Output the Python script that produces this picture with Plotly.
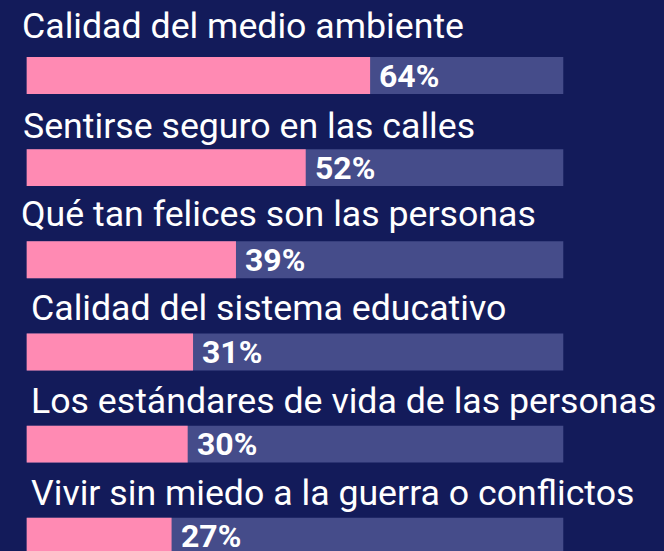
import plotly.graph_objects as go

categories = [
    "Calidad del medio ambiente",
    "Sentirse seguro en las calles",
    "Qué tan felices son las personas",
    "Calidad del sistema educativo",
    "Los estándares de vida de las personas",
    "Vivir sin miedo a la guerra o conflictos",
]
values = [64, 52, 39, 31, 30, 27]
total = [100] * len(values)

# styling (pixel nudges for labels)
label_dx = [-7, -6, -8, 2, 2, 2]
label_gap = [20, 12, 16, 15, 14, 14]

BG = "#131b5a"
TRACK = "#454c8a"
PINK = "#ff8ab3"
FONT = "Roboto"

pos = list(range(len(categories)))

fig = go.Figure()
fig.add_trace(go.Bar(x=total, y=pos, orientation="h", width=0.4,
                     marker=dict(color=TRACK, line=dict(width=0)),
                     hoverinfo="skip", showlegend=False))
fig.add_trace(go.Bar(x=values, y=pos, orientation="h", width=0.4,
                     marker=dict(color=PINK, line=dict(width=0)),
                     showlegend=False))

for i, (c, v) in enumerate(zip(categories, values)):
    fig.add_annotation(x=0, y=i - 0.2, text=c, showarrow=False,
                       xanchor="left", yanchor="bottom",
                       xshift=label_dx[i], yshift=label_gap[i] - 12,
                       font=dict(family=FONT, size=35.7, color="white"))
    fig.add_annotation(x=v, y=i, text=f"<b>{v}%</b>", showarrow=False,
                       xanchor="left", yanchor="middle", xshift=7, yshift=0,
                       font=dict(family=FONT, size=32, color="white"))

fig.update_layout(
    width=664, height=551,
    margin=dict(l=0, r=0, t=0, b=0),
    paper_bgcolor=BG, plot_bgcolor=BG,
    barmode="overlay",
    xaxis=dict(range=[-4.976, 118.77], visible=False, fixedrange=True),
    yaxis=dict(range=[5.160, -0.8193], visible=False, fixedrange=True),
)

fig.write_html(
    "out.html",
    config={"displayModeBar": False},
    post_script="document.body.style.margin='0';document.body.style.overflow='hidden';document.body.style.background='" + BG + "';",
)
